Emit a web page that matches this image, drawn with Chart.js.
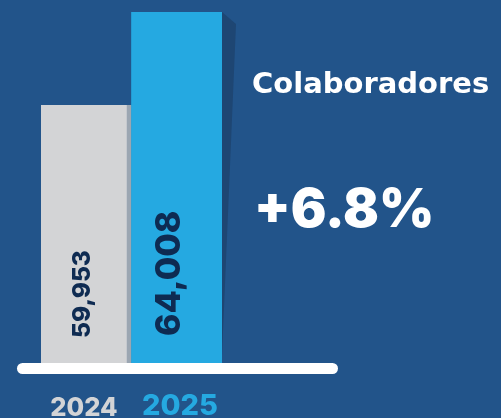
<!doctype html>
<html lang="es">

<head>
    <meta charset="utf-8">
    <title>Colaboradores</title>
    <script src="https://cdn.jsdelivr.net/npm/chart.js"></script>
    <style>
        html, body { margin: 0; padding: 0; background: #22548a; overflow: hidden; }
        #chart { display: block; }
    </style>
</head>

<body>
    <canvas id="chart" width="501" height="418"></canvas>

    <script>
        // datos
        const years = ['2024', '2025'];
        const collaborators = [59953, 64008];
        const valueLabels = ['59,953', '64,008'];
        const titleText = 'Colaboradores';
        const growthText = '+6.8%';

        const FONT = 'Inter, "DejaVu Sans", sans-serif';
        const barColors = ['#d3d4d6', '#25a9e1'];
        const yearColors = ['#d3d4d6', '#25a9e1'];

        const decoPlugin = {
            id: 'deco',
            beforeDatasetsDraw(chart) {
                const ctx = chart.ctx;
                const bar = chart.getDatasetMeta(0).data[1];
                const right = bar.x + bar.width / 2;
                const bottom = chart.chartArea.bottom;
                // sombra lateral de la barra 2025
                ctx.save();
                ctx.fillStyle = '#1e4673';
                ctx.beginPath();
                ctx.moveTo(right, bar.y);
                ctx.lineTo(right + 14, bar.y + 12);
                ctx.lineTo(right, bottom - 8);
                ctx.closePath();
                ctx.fill();
                ctx.restore();
            },
            afterDatasetsDraw(chart) {
                const ctx = chart.ctx;
                const bars = chart.getDatasetMeta(0).data;
                const area = chart.chartArea;

                // etiquetas de valor, giradas
                const sizes = [24.5, 34];
                const shift = [4, 3];
                const lift = [25, 27];
                bars.forEach((b, i) => {
                    ctx.save();
                    ctx.translate(b.x + shift[i], area.bottom - lift[i]);
                    ctx.rotate(-Math.PI / 2);
                    ctx.font = '800 ' + sizes[i] + 'px ' + FONT;
                    ctx.fillStyle = '#0e2b52';
                    ctx.textAlign = 'left';
                    ctx.textBaseline = 'alphabetic';
                    ctx.fillText(valueLabels[i], 0, 0);
                    ctx.restore();
                });

                // linea base blanca
                ctx.save();
                ctx.fillStyle = '#ffffff';
                ctx.beginPath();
                ctx.roundRect(17, area.bottom, 321, 11, 5.5);
                ctx.fill();
                ctx.restore();

                // años
                const yearSizes = [25.5, 29];
                const yearTops = [396, 392];
                const yearX = [84, 180];
                years.forEach((y, i) => {
                    ctx.save();
                    ctx.font = '800 ' + yearSizes[i] + 'px ' + FONT;
                    ctx.fillStyle = yearColors[i];
                    ctx.textAlign = 'center';
                    ctx.textBaseline = 'top';
                    ctx.fillText(y, yearX[i], yearTops[i]);
                    ctx.restore();
                });

                // textos de la derecha
                ctx.save();
                ctx.fillStyle = '#ffffff';
                ctx.textAlign = 'left';
                ctx.textBaseline = 'alphabetic';
                ctx.font = 'bold 29px "DejaVu Sans", sans-serif';
                ctx.fillText(titleText, 252, 93);
                ctx.font = '900 53px ' + FONT;
                ctx.fillText(growthText, 254, 227);
                ctx.restore();
            }
        };

        new Chart(document.getElementById('chart'), {
            type: 'bar',
            data: {
                labels: years,
                datasets: [{
                    label: 'Colaboradores',
                    data: collaborators,
                    backgroundColor: barColors,
                    borderColor: ['#9ba6b2', 'rgba(0,0,0,0)'],
                    borderWidth: [{ top: 0, right: 5, bottom: 0, left: 0 }, 0],
                    borderSkipped: false,
                    barPercentage: 1,
                    categoryPercentage: 1
                }]
            },
            options: {
                responsive: false,
                animation: false,
                layout: {
                    padding: { left: 41, right: 279, top: 12, bottom: 55 }
                },
                scales: {
                    x: { display: false },
                    y: { display: false, min: 48700, max: 64008 }
                },
                plugins: {
                    legend: { display: false },
                    tooltip: { enabled: false }
                }
            },
            plugins: [decoPlugin]
        });
    </script>
</body>

</html>
